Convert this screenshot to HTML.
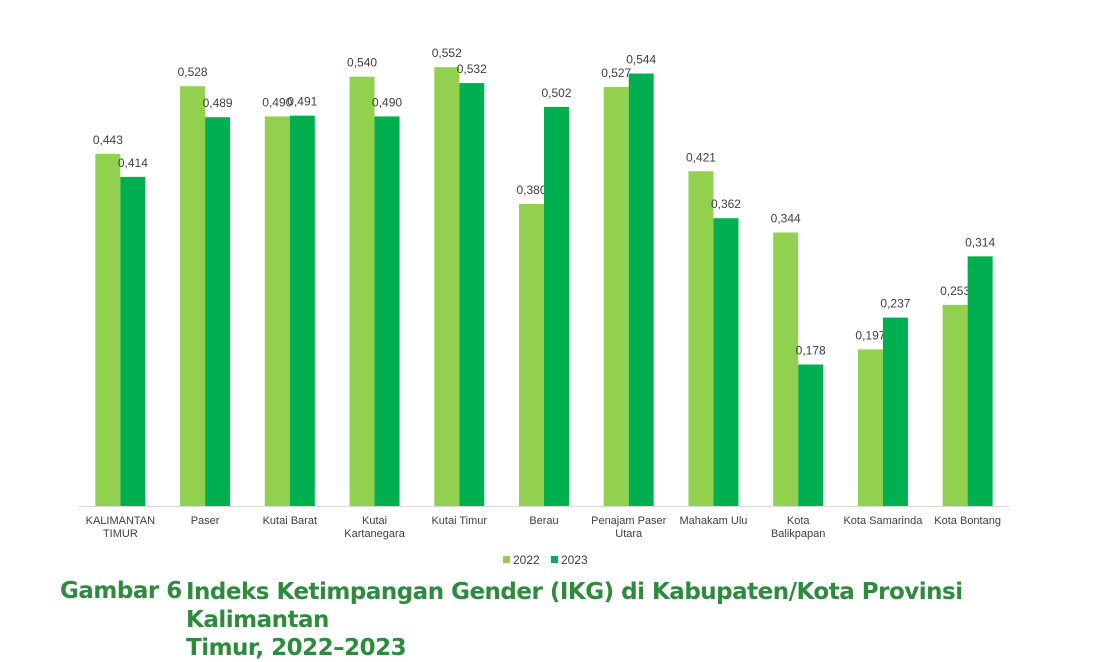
<!DOCTYPE html>
<html><head><meta charset="utf-8"><style>
body{margin:0;background:#fff;width:1106px;height:662px;overflow:hidden;font-family:"Liberation Sans",sans-serif}
.t{position:absolute;color:#2e8b3e;font-weight:bold;font-size:23px;font-family:"DejaVu Sans","Liberation Sans",sans-serif;letter-spacing:-0.5px}
</style></head><body>
<svg id="chart" width="1106" height="575" style="position:absolute;left:0;top:0"></svg>
<div class="t" style="left:60px;top:578px">Gambar 6</div>
<div class="t" style="left:186px;top:578px;line-height:28px">Indeks Ketimpangan Gender (IKG) di Kabupaten/Kota Provinsi Kalimantan<br>Timur, 2022–2023</div>
<script>
const categories=[["KALIMANTAN","TIMUR"],["Paser"],["Kutai Barat"],["Kutai","Kartanegara"],["Kutai Timur"],["Berau"],["Penajam Paser","Utara"],["Mahakam Ulu"],["Kota","Balikpapan"],["Kota Samarinda"],["Kota Bontang"]];
const values2022=[0.443,0.528,0.490,0.540,0.552,0.380,0.527,0.421,0.344,0.197,0.253];
const values2023=[0.414,0.489,0.491,0.490,0.532,0.502,0.544,0.362,0.178,0.237,0.314];
const seriesNames=["2022","2023"];
const colors=["#92d050","#00b050"];
const svg=document.getElementById('chart');
const NS="http://www.w3.org/2000/svg";
const x0=78,x1=1010,base=506,ppu=795;
const gw=(x1-x0)/categories.length,bw=25;
const y=v=>base-v*ppu;
const cx=i=>x0+gw*(i+0.5);
function mk(t,a){const e=document.createElementNS(NS,t);for(const k in a)e.setAttribute(k,a[k]);svg.appendChild(e);return e;}
const ax=mk('line',{x1:x0,x2:x1,y1:base+0.5,y2:base+0.5,stroke:'#d9d9d9','stroke-width':1});


[values2022,values2023].forEach((vals,s)=>{
 vals.forEach((v,i)=>{
  const bx=cx(i)-bw+s*bw;
  const r=mk('rect',{x:bx,y:y(v),width:bw,height:base-y(v),fill:colors[s]});
  
  
  const t=mk('text',{x:bx+bw/2,y:y(v)-10,'text-anchor':'middle','font-size':12,fill:'#404040'});
  t.textContent=v.toFixed(3).replace('.',',');
  
  
 });
});
categories.forEach((c,i)=>{
 c.forEach((ln,j)=>{
  const t=mk('text',{x:cx(i),y:524+j*13,'text-anchor':'middle','font-size':11,fill:'#404040'});
  t.textContent=ln;
  
  
 });
});
seriesNames.forEach((n,s)=>{
 const lx=503+s*48;
 const r=mk('rect',{x:lx,y:556,width:7,height:7,fill:colors[s]});
 
 
 const t=mk('text',{x:lx+10,y:564,'font-size':12,fill:'#404040'});
 t.textContent=n;
 
 
});
</script>
</body></html>
